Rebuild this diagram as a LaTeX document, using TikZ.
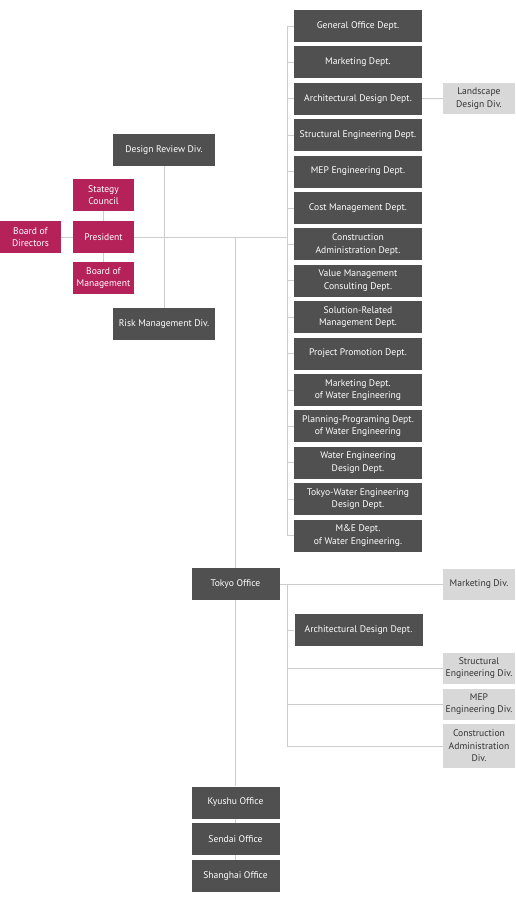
\documentclass[tikz,border=0pt]{standalone}
\usepackage{fontspec}
\setmainfont{PT Sans}
\definecolor{boxgray}{HTML}{505050}
\definecolor{boxred}{HTML}{B5225A}
\definecolor{boxlight}{HTML}{D8D8D8}
\definecolor{linegray}{HTML}{CDCDCD}
\tikzset{
    dept/.style={fill=boxgray,text=white,minimum width=128pt,minimum height=32pt,inner sep=0pt,align=center,font=\fontsize{9.6}{12.4}\selectfont},
    office/.style={dept,minimum width=88pt},
    exec/.style={dept,fill=boxred,minimum width=61pt},
    div/.style={fill=boxlight,text=black!80,minimum width=72pt,minimum height=31pt,inner sep=0pt,align=center,font=\fontsize{9.6}{12.4}\selectfont},
    link/.style={draw=linegray,line width=0.9pt}
}
\begin{document}
\begin{tikzpicture}[x=1pt,y=-1pt]
    \fill[white] (0,0) rectangle (515,900);
    \useasboundingbox (0,0) rectangle (515,900);
    \coordinate (top) at (287,26);
    \coordinate (bot) at (287,535.6);
    \draw[link] (top) -- (bot);
    \foreach \t [count=\i from 0] in {General Office Dept.,Marketing Dept.,Architectural Design Dept.,Structural Engineering Dept.,MEP Engineering Dept.,Cost Management Dept.,{Construction\\Administration Dept.},{Value Management\\Consulting Dept.},{Solution-Related\\Management Dept.},Project Promotion Dept.,{Marketing Dept.\\of Water Engineering},{Planning-Programing Dept.\\of Water Engineering},{Water Engineering\\Design Dept.},{Tokyo-Water Engineering\\Design Dept.},{M\&E Dept.\\of Water Engineering.}}{
        \node[dept] (d\i) at (358,26+36.4*\i) {\t};
        \draw[link] (d\i.west) -- (d\i.west -| top);
    }
    \node[div] (lds) at (479,98.5) {Landscape\\Design Div.};
    \draw[link] (d2) -- (lds);
    \node[dept,minimum width=102pt] (drd) at (164,150) {Design Review Div.};
    \node[dept,minimum width=102pt] (rmd) at (164,324) {Risk Management Div.};
    \draw[link] (drd) -- (rmd);
    \node[exec] (sc) at (103.5,195) {Stategy\\Council};
    \node[exec] (pres) at (103.5,237) {President};
    \node[exec] (bom) at (103.5,278) {Board of\\Management};
    \node[exec] (bod) at (30.5,237) {Board of\\Directors};
    \draw[link] (sc) -- (pres);
    \draw[link] (pres) -- (bom);
    \draw[link] (bod) -- (pres);
    \draw[link] (pres) -- (pres -| top);
    \coordinate (trunk) at (235.5,237);
    \node[office] (tko) at (235.5,584) {Tokyo Office};
    \node[office] (kyo) at (235.5,802.5) {Kyushu Office};
    \node[office] (sdo) at (235.5,839) {Sendai Office};
    \node[office] (sho) at (235.5,876) {Shanghai Office};
    \draw[link] (trunk) -- (tko);
    \draw[link] (tko) -- (kyo);
    \draw[link] (kyo) -- (sdo);
    \draw[link] (sdo) -- (sho);
    \node[div] (mkd) at (479,584) {Marketing Div.};
    \node[dept] (ard) at (358.5,630) {Architectural Design Dept.};
    \node[div] (sed) at (479,668) {Structural\\Engineering Div.};
    \node[div] (med) at (479,704) {MEP\\Engineering Div.};
    \node[div,minimum height=44pt] (cad) at (479,746) {Construction\\Administration\\Div.};
    \coordinate (ttop) at (287,584);
    \coordinate (tbot) at (287,746);
    \draw[link] (tko) -- (mkd);
    \draw[link] (ttop) -- (tbot);
    \draw[link] (ard.west -| ttop) -- (ard);
    \draw[link] (sed.west -| ttop) -- (sed);
    \draw[link] (med.west -| ttop) -- (med);
    \draw[link] (tbot) -- (cad);
\end{tikzpicture}
\end{document}
